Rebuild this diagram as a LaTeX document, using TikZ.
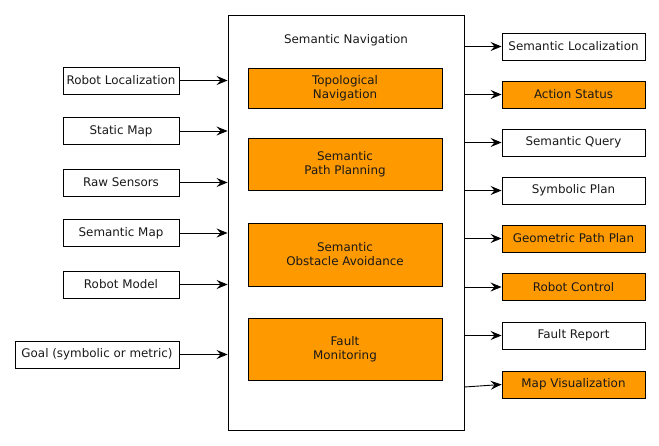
\documentclass[tikz,border=0pt]{standalone}
\usepackage{fontspec}
\setmainfont{DejaVu Sans}
\usetikzlibrary{arrows.meta,calc}
\definecolor{orng}{HTML}{FF9900}
\begin{document}
\begin{tikzpicture}[x=1pt,y=-1pt,
  every node/.style={font=\fontsize{11.9}{14}\selectfont, inner sep=0pt, text=black!90},
  inbox/.style={draw, line width=0.9pt, minimum width=116pt, minimum height=27pt},
  outbox/.style={draw, line width=0.9pt, minimum width=143pt, minimum height=27pt},
  hl/.style={fill=orng},
  modbox/.style={draw, line width=0.9pt, fill=orng, minimum width=194pt, align=center},
  arr/.style={line width=0.9pt, -{Stealth[length=11pt,width=9pt,inset=4pt]}}]
\useasboundingbox (0,0) rectangle (659,446);
% main box
\node[draw, line width=0.9pt, minimum width=236pt, minimum height=415pt] (main) at (346,222.5) {};
\node (title) at (346,40) {Semantic Navigation};
% modules
\node[modbox, minimum height=40pt] (topo) at (345,88) {Topological\\Navigation};
\node[modbox, minimum height=52pt] (spp) at (345,164) {Semantic\\Path Planning};
\node[modbox, minimum height=63pt] (soa) at (345,254.5) {Semantic\\Obstacle Avoidance};
\node[modbox, minimum height=62pt] (fm) at (345,349) {Fault\\Monitoring};
% inputs
\node[inbox] (l1) at (121,80.5) {Robot Localization};
\node[inbox] (l2) at (121,131) {Static Map};
\node[inbox] (l3) at (121,182.5) {Raw Sensors};
\node[inbox] (l4) at (121,233) {Semantic Map};
\node[inbox] (l5) at (121,284.5) {Robot Model};
\node[inbox, minimum width=164pt] (l6) at (97,354.5) {Goal (symbolic or metric)};
\foreach \n in {l1,l2,l3,l4,l5,l6}
  \draw[arr] (\n.east) -- (\n.east -| main.west);
% outputs
\node[outbox] (r1) at (573.5,46.5) {Semantic Localization};
\node[outbox, hl] (r2) at (573.5,94.5) {Action Status};
\node[outbox] (r3) at (573.5,142.5) {Semantic Query};
\node[outbox] (r4) at (573.5,190.5) {Symbolic Plan};
\node[outbox, hl] (r5) at (573.5,238.5) {Geometric Path Plan};
\node[outbox, hl] (r6) at (573.5,287) {Robot Control};
\node[outbox] (r7) at (573.5,335.5) {Fault Report};
\node[outbox, hl] (r8) at (573.5,384.5) {Map Visualization};
\foreach \n in {r1,r2,r3,r4,r5,r6,r7}
  \draw[arr] (main.east |- \n.west) -- (\n.west);
\draw[arr] ($(main.east |- r8.west)+(0,2.5)$) -- (r8.west);
\end{tikzpicture}
\end{document}
